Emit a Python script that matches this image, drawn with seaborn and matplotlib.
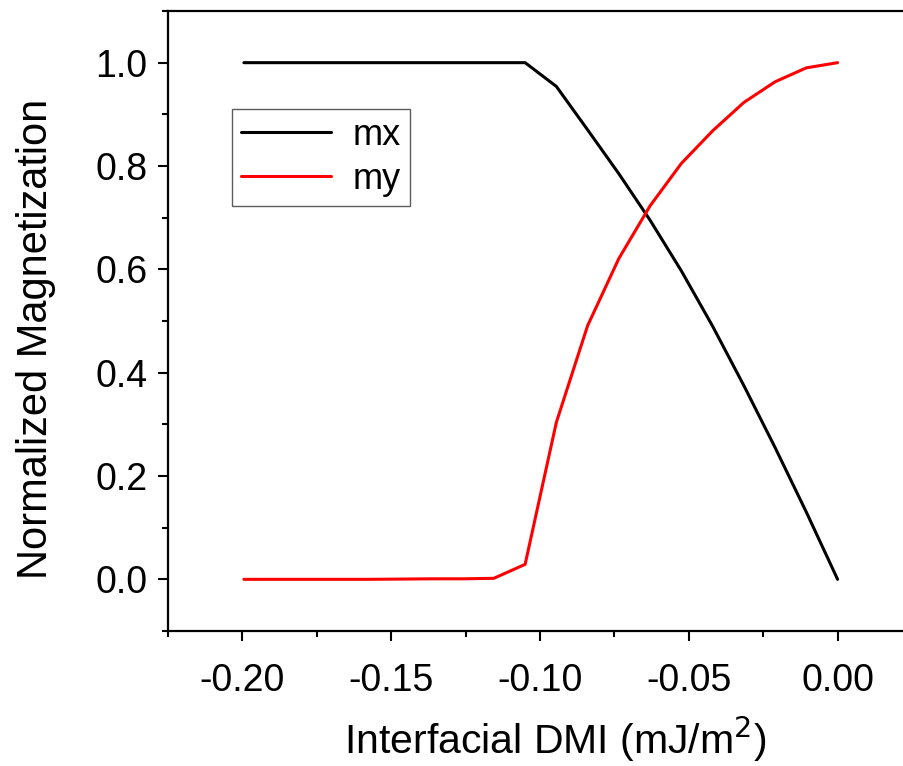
import matplotlib
matplotlib.use("Agg")
import matplotlib.pyplot as plt
import seaborn as sns
import pandas as pd
from matplotlib.ticker import MultipleLocator

# Data
dmi = [-0.1995, -0.189, -0.1785, -0.168, -0.1575, -0.147, -0.1365, -0.126, -0.1155,
       -0.105, -0.0945, -0.084, -0.0735, -0.063, -0.0525, -0.042, -0.0315, -0.021,
       -0.0105, 0.0]
mx = [1.0, 1.0, 1.0, 1.0, 1.0, 1.0, 1.0, 1.0, 1.0,
      1.0, 0.954, 0.870, 0.785, 0.695, 0.597, 0.490, 0.375, 0.255, 0.130, 0.0]
my = [0.0, 0.0, 0.0, 0.0, 0.0, 0.0005, 0.001, 0.001, 0.002,
      0.029, 0.304, 0.491, 0.621, 0.723, 0.805, 0.868, 0.923, 0.963, 0.990, 1.0]
series_names = ["mx", "my"]
colors = ["black", "red"]
x_ticks = [-0.20, -0.15, -0.10, -0.05, 0.00]
y_ticks = [0.0, 0.2, 0.4, 0.6, 0.8, 1.0]

df = pd.concat([
    pd.DataFrame({"x": dmi, "y": mx, "series": series_names[0]}),
    pd.DataFrame({"x": dmi, "y": my, "series": series_names[1]}),
])

sns.set_theme(style="ticks")
plt.rcParams["font.family"] = ["Liberation Sans", "DejaVu Sans"]
plt.rcParams["text.color"] = "black"
plt.rcParams["axes.labelcolor"] = "black"

fig = plt.figure(figsize=(9.04, 7.66), dpi=100)
ax = fig.add_axes([168 / 904, 1 - 631 / 766, (912 - 168) / 904, (631 - 11) / 766])

sns.lineplot(data=df, x="x", y="y", hue="series", palette=dict(zip(series_names, colors)),
             linewidth=2.2, ax=ax, sort=False, estimator=None)

ax.set_xlim(-0.225, 0.025)
ax.set_ylim(-0.1, 1.1)
ax.set_xticks(x_ticks)
ax.set_xticklabels([f"{v:.2f}" for v in x_ticks])
ax.set_yticks(y_ticks)
ax.set_yticklabels([f"{v:.1f}" for v in y_ticks])
ax.xaxis.set_minor_locator(MultipleLocator(0.025))
ax.yaxis.set_minor_locator(MultipleLocator(0.1))

for s in ax.spines.values():
    s.set_linewidth(1.6)
    s.set_color("black")
ax.spines["right"].set_visible(False)

ax.tick_params(axis="both", which="major", direction="out", length=7, width=1.5,
               labelsize=27, color="black", labelcolor="black")
ax.tick_params(axis="both", which="minor", direction="out", length=4, width=1.5, color="black")
ax.tick_params(axis="x", which="major", pad=16)
ax.tick_params(axis="y", which="major", pad=8)
ax.tick_params(axis="x", which="both", top=False)
ax.tick_params(axis="y", which="both", right=False)

ax.set_xlabel("Interfacial DMI (mJ/m$^2$)", fontsize=29.5)
ax.set_ylabel("Normalized Magnetization", fontsize=30)
ax.xaxis.set_label_coords((555 - 168) / 744, (631 - 715) / 620)
ax.yaxis.set_label_coords((56 - 168) / 744, (631 - 339) / 620)

leg = ax.legend(loc="upper left", bbox_to_anchor=((232 - 168) / 744, (631 - 109) / 620),
                fontsize=26, frameon=True, fancybox=False, handlelength=2.5,
                handletextpad=0.6, borderpad=0.25, labelspacing=0.25, borderaxespad=0)
leg.get_frame().set_edgecolor("#333333")
leg.get_frame().set_linewidth(1.0)
for h in leg.get_lines():
    h.set_linewidth(2.2)

fig.savefig("out.png", dpi=100)
